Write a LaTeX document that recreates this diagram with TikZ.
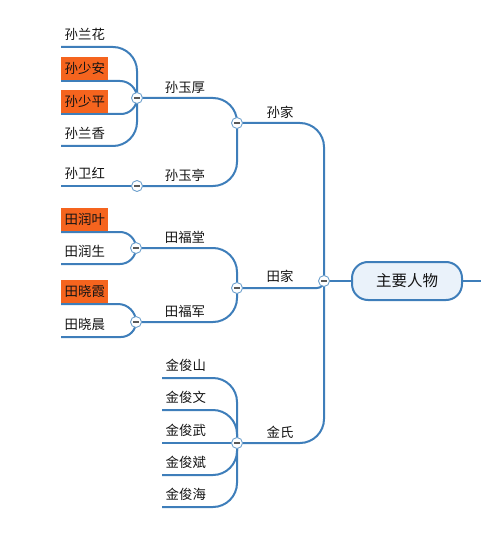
\documentclass[tikz,border=0pt]{standalone}
\usepackage{fontspec}
\newfontfamily\cjk{Noto Sans CJK SC}
\usetikzlibrary{calc}
\definecolor{lineblue}{RGB}{62,126,186}
\definecolor{togblue}{RGB}{110,160,205}
\definecolor{hlorange}{RGB}{245,100,30}
\definecolor{rootfill}{RGB}{234,242,250}
\definecolor{txt}{RGB}{20,20,20}
\begin{document}
\begin{tikzpicture}[x=1pt,y=-1pt,
  font=\cjk\fontsize{13.4}{15}\selectfont, text=txt,
  conn/.style={draw=lineblue, line width=2pt},
  toggle/.style={circle, draw=togblue, fill=white, line width=0.9pt, minimum size=11pt, inner sep=0pt,
    path picture={\draw[black!65, line width=1.1pt]
      ([xshift=-2.6pt]path picture bounding box.center) -- ([xshift=2.6pt]path picture bounding box.center);}},
  leaf/.style={anchor=south west, inner xsep=3.5pt, inner ysep=0pt, minimum height=23pt, yshift=1pt},
  hl/.style={leaf, fill=hlorange},
  midlabel/.style={anchor=center, inner sep=1pt},
  elbow/.style={to path={let \p1=(\tikztostart), \p2=(\tikztotarget),
      \n1={min(24,abs(\y2-\y1))}, \n2={sign(\y2-\y1)} in
      -- ({\x2-\n1*1pt},{\y1}) .. controls ({\x2-0.45*\n1*1pt},{\y1}) and ({\x2},{\y1+\n2*0.45*\n1*1pt}) .. ({\x2},{\y1+\n2*\n1*1pt}) -- ({\x2},{\y2})}}
]
\useasboundingbox (0,0) rectangle (481,540);

% root
\node[draw=lineblue, line width=2pt, fill=rootfill, rounded corners=16pt, minimum width=110pt, minimum height=38pt,
  font=\cjk\fontsize{15.5}{18}\selectfont] (root) at (407,281) {主要人物};
\coordinate (rootR) at (481,281);

% toggles positions
\coordinate (pRoot) at (324,281);
\coordinate (pSun) at (237,123);
\coordinate (pTian) at (237,288);
\coordinate (pJin) at (237,443);
\coordinate (pYuhou) at (137,98);
\coordinate (pYuting) at (137,186);
\coordinate (pFutang) at (136,248);
\coordinate (pFujun) at (136,322);

% leaf line starts
\coordinate (lLanhua) at (61,47);
\coordinate (lShaoan) at (61,81);
\coordinate (lShaoping) at (61,114);
\coordinate (lLanxiang) at (61,146);
\coordinate (lWeihong) at (61,186);
\coordinate (lRunye) at (61,232);
\coordinate (lRunsheng) at (61,264);
\coordinate (lXiaoxia) at (61,304);
\coordinate (lXiaochen) at (61,337);
\coordinate (lJs) at (162,378);
\coordinate (lJw) at (162,410);
\coordinate (lJwu) at (162,443);
\coordinate (lJb) at (162,475);
\coordinate (lJh) at (162,507);

% connectors
\draw[conn] (root) -- (rootR);
\draw[conn] (pRoot) -- (root.west);
\draw[conn] (pSun) to[elbow] (pRoot);
\draw[conn] (pTian) to[elbow] (pRoot);
\draw[conn] (pJin) to[elbow] (pRoot);
\draw[conn] (pYuhou) to[elbow] (pSun);
\draw[conn] (pYuting) to[elbow] (pSun);
\draw[conn] (pFutang) to[elbow] (pTian);
\draw[conn] (pFujun) to[elbow] (pTian);
\foreach \a in {lLanhua,lShaoan,lShaoping,lLanxiang} \draw[conn] (\a) to[elbow] (pYuhou);
\draw[conn] (lWeihong) to[elbow] (pYuting);
\foreach \a in {lRunye,lRunsheng} \draw[conn] (\a) to[elbow] (pFutang);
\foreach \a in {lXiaoxia,lXiaochen} \draw[conn] (\a) to[elbow] (pFujun);
\foreach \a in {lJs,lJw,lJwu,lJb,lJh} \draw[conn] (\a) to[elbow] (pJin);

% toggle circles
\foreach \p/\n in {pRoot/tRoot,pSun/tSun,pTian/tTian,pJin/tJin,pYuhou/tYuhou,pYuting/tYuting,pFutang/tFutang,pFujun/tFujun}
  \node[toggle] (\n) at (\p) {};

% leaf labels
\node[leaf] (nLanhua) at (lLanhua) {孙兰花};
\node[hl] (nShaoan) at (lShaoan) {孙少安};
\node[hl] (nShaoping) at (lShaoping) {孙少平};
\node[leaf] (nLanxiang) at (lLanxiang) {孙兰香};
\node[leaf] (nWeihong) at (lWeihong) {孙卫红};
\node[hl] (nRunye) at (lRunye) {田润叶};
\node[leaf] (nRunsheng) at (lRunsheng) {田润生};
\node[hl] (nXiaoxia) at (lXiaoxia) {田晓霞};
\node[leaf] (nXiaochen) at (lXiaochen) {田晓晨};
\node[leaf] (nJs) at (lJs) {金俊山};
\node[leaf] (nJw) at (lJw) {金俊文};
\node[leaf] (nJwu) at (lJwu) {金俊武};
\node[leaf] (nJb) at (lJb) {金俊斌};
\node[leaf] (nJh) at (lJh) {金俊海};

% middle labels
\node[midlabel] (nYuhou) at (185,87) {孙玉厚};
\node[midlabel] (nYuting) at (185,175) {孙玉亭};
\node[midlabel] (nFutang) at (185,237) {田福堂};
\node[midlabel] (nFujun) at (185,311) {田福军};
\node[midlabel] (nSun) at (280,112) {孙家};
\node[midlabel] (nTian) at (280,276) {田家};
\node[midlabel] (nJin) at (280,432) {金氏};
\end{tikzpicture}
\end{document}
